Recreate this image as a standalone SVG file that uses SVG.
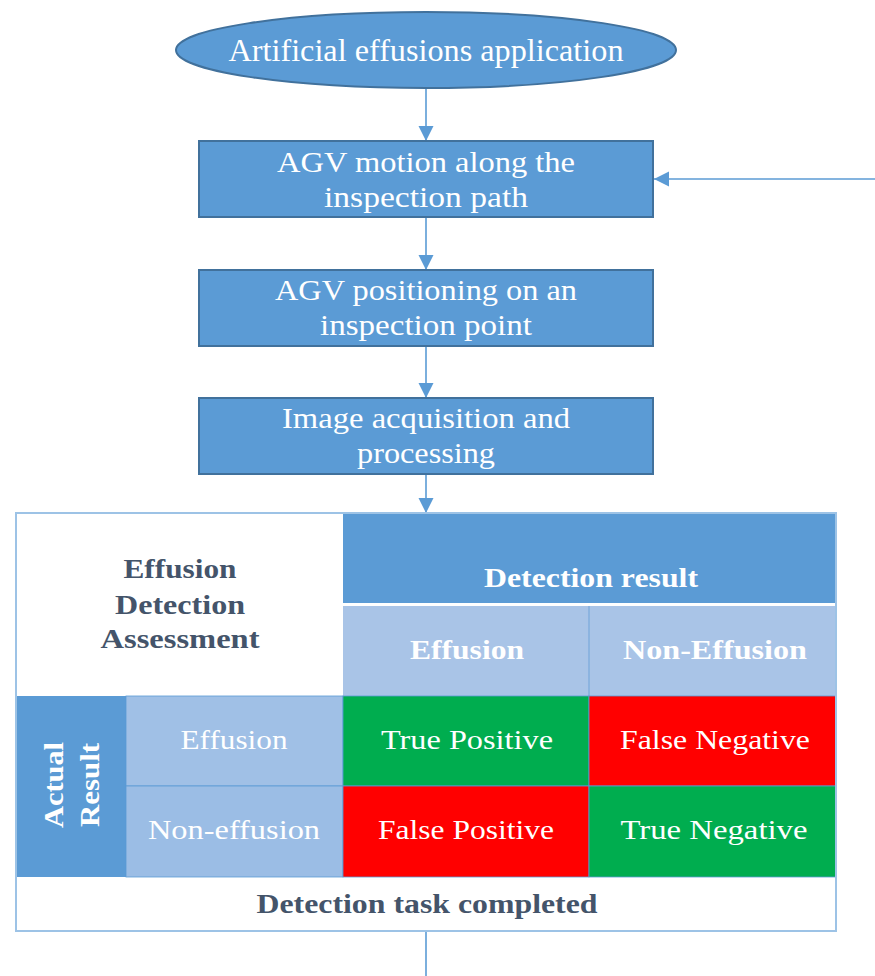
<svg xmlns="http://www.w3.org/2000/svg" width="875" height="976" viewBox="0 0 875 976">
<style>
text{font-family:"Liberation Serif","Times New Roman",serif;text-anchor:middle}
.w{fill:#ffffff;font-size:29px}
.c{fill:#ffffff;font-size:28px}
.wb{fill:#ffffff;font-size:27px;font-weight:bold}
.d{fill:#44546A;font-size:27px;font-weight:bold}
.box{fill:#5B9BD5;stroke:#41719C;stroke-width:2}
.conn{stroke:#5B9BD5;stroke-width:1.6;fill:none}
.cell{stroke:#5B9BD5;stroke-width:0.8}
</style>
<defs>
<marker id="ah" markerUnits="userSpaceOnUse" markerWidth="16" markerHeight="16" refX="15" refY="7.5" orient="auto">
<path d="M0,0 L15,7.5 L0,15 z" fill="#5B9BD5"/>
</marker>
</defs>

<g id="connectors">
<path class="conn" d="M426,89 V141" marker-end="url(#ah)"/>
<path class="conn" d="M426,218 V270" marker-end="url(#ah)"/>
<path class="conn" d="M426,346 V398" marker-end="url(#ah)"/>
<path class="conn" d="M426,475 V513" marker-end="url(#ah)"/>
<path class="conn" d="M875,179 H654" marker-end="url(#ah)"/>
<path class="conn" d="M426,931 V976"/>
</g>

<g id="start">
<ellipse class="box" cx="426" cy="50" rx="250" ry="38"/>
<text class="w" x="426" y="61" style="font-size:32px" textLength="395" lengthAdjust="spacingAndGlyphs">Artificial effusions application</text>
</g>

<g id="motion">
<rect class="box" x="199" y="141" width="454" height="76"/>
<text class="w" x="426" y="172" textLength="298" lengthAdjust="spacingAndGlyphs">AGV motion along the</text>
<text class="w" x="426" y="207" textLength="204" lengthAdjust="spacingAndGlyphs">inspection path</text>
</g>

<g id="positioning">
<rect class="box" x="199" y="270" width="454" height="76"/>
<text class="w" x="426" y="300" textLength="302" lengthAdjust="spacingAndGlyphs">AGV positioning on an</text>
<text class="w" x="426" y="335" textLength="212" lengthAdjust="spacingAndGlyphs">inspection point</text>
</g>

<g id="acquisition">
<rect class="box" x="199" y="398" width="454" height="76"/>
<text class="w" x="426" y="428" textLength="288" lengthAdjust="spacingAndGlyphs">Image acquisition and</text>
<text class="w" x="426" y="463" textLength="138" lengthAdjust="spacingAndGlyphs">processing</text>
</g>

<g id="table">
<rect x="16" y="513" width="820" height="418" fill="#ffffff"/>
<g id="assessment">
<rect x="16" y="513" width="327" height="183" fill="#ffffff"/>
<text class="d" x="180" y="578" textLength="113" lengthAdjust="spacingAndGlyphs">Effusion</text>
<text class="d" x="180" y="614" textLength="130" lengthAdjust="spacingAndGlyphs">Detection</text>
<text class="d" x="180" y="648" textLength="159" lengthAdjust="spacingAndGlyphs">Assessment</text>
</g>
<g id="detection-result">
<rect x="343" y="513" width="493" height="90" fill="#5B9BD5"/>
<text class="wb" x="591" y="587" textLength="214" lengthAdjust="spacingAndGlyphs">Detection result</text>
</g>
<g id="det-effusion">
<rect x="343" y="606" width="246" height="90" fill="#A9C4E7"/>
<text class="wb" x="467" y="659" textLength="114" lengthAdjust="spacingAndGlyphs">Effusion</text>
</g>
<g id="det-non-effusion">
<rect x="589" y="606" width="247" height="90" fill="#A9C4E7"/>
<text class="wb" x="715" y="659" textLength="184" lengthAdjust="spacingAndGlyphs">Non-Effusion</text>
</g>
<line x1="589" y1="606" x2="589" y2="696" stroke="#6FA3D8" stroke-width="1"/>
<g id="actual-result">
<rect x="16" y="696" width="110" height="181" fill="#5B9BD5"/>
<text class="wb" transform="translate(63,785) rotate(-90)" textLength="86" lengthAdjust="spacingAndGlyphs">Actual</text>
<text class="wb" transform="translate(99,785) rotate(-90)" textLength="84" lengthAdjust="spacingAndGlyphs">Result</text>
</g>
<g id="act-effusion">
<rect class="cell" x="126" y="696" width="217" height="90" fill="#A0C0E6"/>
<text class="c" x="234" y="749" textLength="107" lengthAdjust="spacingAndGlyphs">Effusion</text>
</g>
<g id="act-non-effusion">
<rect class="cell" x="126" y="786" width="217" height="91" fill="#9BBDE5"/>
<text class="c" x="234" y="839" textLength="172" lengthAdjust="spacingAndGlyphs">Non-effusion</text>
</g>
<g id="tp">
<rect class="cell" x="343" y="696" width="246" height="90" fill="#00AD4F"/>
<text class="c" x="467" y="749" textLength="172" lengthAdjust="spacingAndGlyphs">True Positive</text>
</g>
<g id="fn">
<rect class="cell" x="589" y="696" width="247" height="90" fill="#FF0000"/>
<text class="c" x="715" y="749" textLength="190" lengthAdjust="spacingAndGlyphs">False Negative</text>
</g>
<g id="fp">
<rect class="cell" x="343" y="786" width="246" height="91" fill="#FF0000"/>
<text class="c" x="466" y="839" textLength="176" lengthAdjust="spacingAndGlyphs">False Positive</text>
</g>
<g id="tn">
<rect class="cell" x="589" y="786" width="247" height="91" fill="#00AD4F"/>
<text class="c" x="714" y="839" textLength="187" lengthAdjust="spacingAndGlyphs">True Negative</text>
</g>
<g id="completed">
<text class="d" x="427" y="913" textLength="341" lengthAdjust="spacingAndGlyphs">Detection task completed</text>
</g>
<rect x="16" y="513" width="820" height="418" fill="none" stroke="#9DC3E6" stroke-width="2"/>
</g>
</svg>
